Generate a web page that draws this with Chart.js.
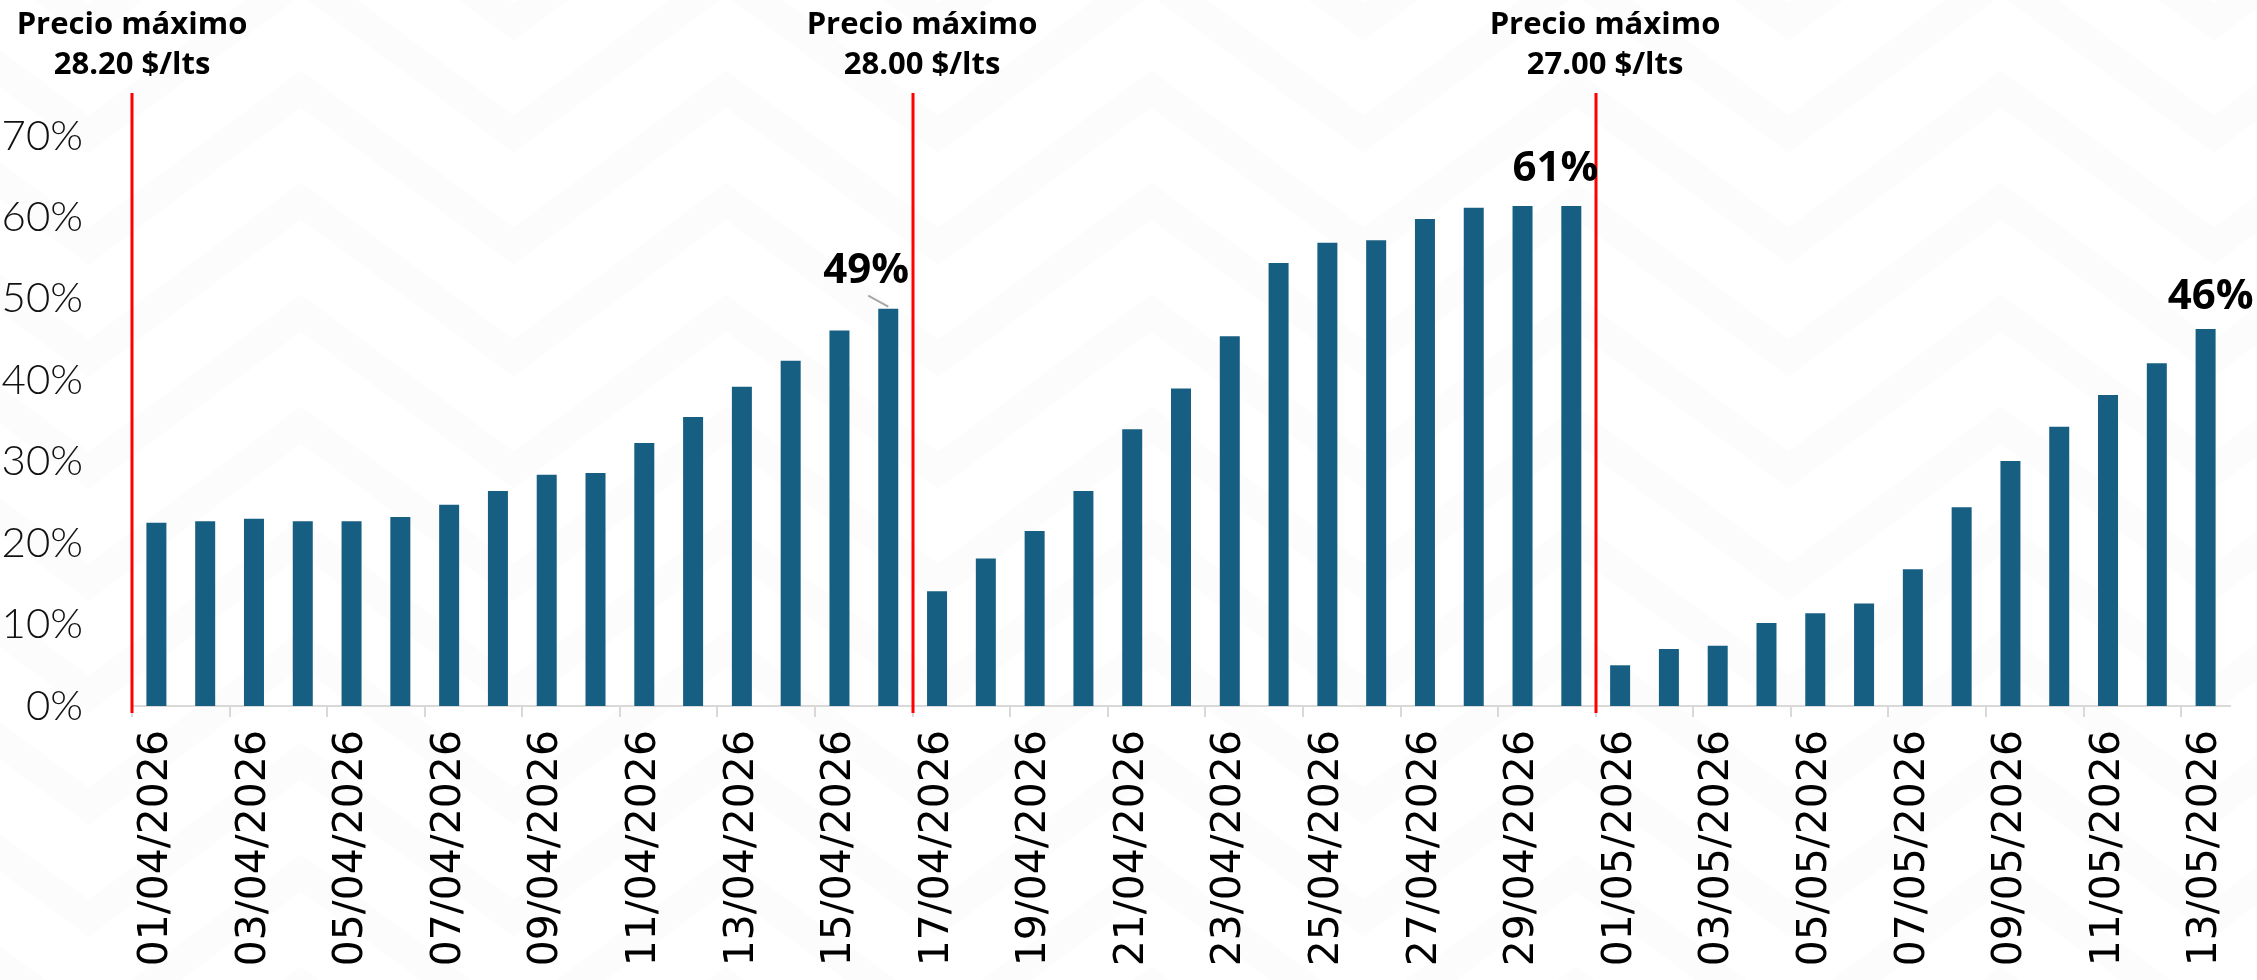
<!DOCTYPE html>
<html lang="es">
<head>
<meta charset="UTF-8">
<title>Precio máximo</title>
<script src="https://cdn.jsdelivr.net/npm/chart.js@4"></script>
<style>
  html, body { margin: 0; padding: 0; background: #fff; }
  #wrap { width: 2257px; height: 980px; }
</style>
</head>
<body>
<div id="wrap"><canvas id="chart"></canvas></div>
<script>
// categorias (dias)
const fechas = [
  '01/04/2026', '02/04/2026', '03/04/2026', '04/04/2026', '05/04/2026', '06/04/2026',
  '07/04/2026', '08/04/2026', '09/04/2026', '10/04/2026', '11/04/2026', '12/04/2026',
  '13/04/2026', '14/04/2026', '15/04/2026', '16/04/2026', '17/04/2026', '18/04/2026',
  '19/04/2026', '20/04/2026', '21/04/2026', '22/04/2026', '23/04/2026', '24/04/2026',
  '25/04/2026', '26/04/2026', '27/04/2026', '28/04/2026', '29/04/2026', '30/04/2026',
  '01/05/2026', '02/05/2026', '03/05/2026', '04/05/2026', '05/05/2026', '06/05/2026',
  '07/05/2026', '08/05/2026', '09/05/2026', '10/05/2026', '11/05/2026', '12/05/2026',
  '13/05/2026'
];

// porcentaje (%)
const valores = [
  22.5, 22.7, 23.0, 22.7, 22.7, 23.2, 24.7, 26.4, 28.4, 28.6, 32.3, 35.5, 39.2, 42.4, 46.1, 48.8,
  14.1, 18.1, 21.5, 26.4, 34.0, 39.0, 45.4, 54.4, 56.9, 57.2, 59.8, 61.2, 61.4, 61.4,
  5.0, 7.0, 7.4, 10.2, 11.4, 12.6, 16.8, 24.4, 30.1, 34.3, 38.2, 42.1, 46.3
];

// indice donde empieza cada precio maximo
const cortes = [0, 16, 30];
const preciosMax = ['28.20 $/lts', '28.00 $/lts', '27.00 $/lts'];

// barras con etiqueta
const destacados = [15, 29, 42];

const yMax = 70;
const yPaso = 10;

const fondo = {
  id: 'fondo',
  beforeDraw(chart) {
    const ctx = chart.ctx;
    ctx.save();
    ctx.fillStyle = '#fff';
    ctx.fillRect(0, 0, chart.width, chart.height);
    ctx.strokeStyle = '#fcfcfc';
    ctx.lineWidth = 30;
    ctx.lineJoin = 'miter';
    for (let k = -3; k < 10; k++) {
      const y0 = 89 + 112 * k;
      ctx.beginPath();
      for (let n = -2; n < 7; n++) {
        const xp = 301 + 425 * n;
        if (n === -2) ctx.moveTo(xp, y0); else ctx.lineTo(xp, y0);
        ctx.lineTo(xp + 212.5, y0 + 157);
      }
      ctx.stroke();
    }
    ctx.restore();
  }
};

const anotaciones = {
  id: 'anotaciones',
  afterDatasetsDraw(chart) {
    const ctx = chart.ctx;
    const area = chart.chartArea;
    const xs = chart.scales.x;
    const paso = xs.width / fechas.length;
    ctx.save();
    // lineas rojas y precios
    cortes.forEach((c, i) => {
      const x = Math.round(xs.getPixelForValue(c) - paso / 2);
      ctx.strokeStyle = '#ff0000';
      ctx.lineWidth = 3;
      ctx.beginPath();
      ctx.moveTo(x, area.top - 43);
      ctx.lineTo(x, area.bottom + 7);
      ctx.stroke();
      const tx = x + (i === 0 ? 0 : 9);
      ctx.fillStyle = '#000';
      ctx.textAlign = 'center';
      ctx.textBaseline = 'middle';
      ctx.font = 'bold 31px "Open Sans"';
      ctx.fillText('Precio máximo', tx, area.top - 111);
      ctx.fillText(preciosMax[i], tx, area.top - 71);
    });
    // etiquetas de valor
    const meta = chart.getDatasetMeta(0);
    const desp = [[-22, -38], [-16, -37], [5, -32]];
    destacados.forEach((idx, j) => {
      const bar = meta.data[idx];
      ctx.fillStyle = '#000';
      ctx.font = 'bold 42px "Open Sans"';
      ctx.textAlign = 'center';
      ctx.textBaseline = 'middle';
      ctx.fillText(Math.round(valores[idx]) + '%', bar.x + desp[j][0], bar.y + desp[j][1]);
      if (j === 0) {
        ctx.strokeStyle = '#a6a6a6';
        ctx.lineWidth = 2;
        ctx.beginPath();
        ctx.moveTo(bar.x - 20, bar.y - 13);
        ctx.lineTo(bar.x, bar.y - 2);
        ctx.stroke();
      }
    });
    ctx.restore();
  }
};

new Chart(document.getElementById('chart'), {
  type: 'bar',
  data: {
    labels: fechas,
    datasets: [{
      data: valores,
      backgroundColor: '#175f82',
      barPercentage: 0.41,
      categoryPercentage: 1.0
    }]
  },
  options: {
    responsive: true,
    maintainAspectRatio: false,
    animation: false,
    layout: { padding: { top: 136, right: 27, left: 0, bottom: 0 } },
    plugins: { legend: { display: false }, tooltip: { enabled: false } },
    scales: {
      x: {
        grid: {
          offset: true,
          drawOnChartArea: false,
          drawTicks: true,
          tickLength: 11,
          lineWidth: 2,
          color: ctx => (ctx.index !== undefined && ctx.index % 2 === 0) ? '#d9d9d9' : 'rgba(0,0,0,0)'
        },
        border: { display: true, color: '#d9d9d9', width: 2 },
        ticks: {
          autoSkip: false,
          minRotation: 90,
          maxRotation: 90,
          padding: 13,
          color: '#000',
          font: { family: 'DejaVu Sans', size: 41 },
          callback: (v, i) => (i % 2 === 0 ? fechas[i] : '')
        },
        afterFit: s => {
          s.height = 274;
          s.paddingLeft = 0;
          s.paddingRight = 0;
        }
      },
      y: {
        min: 0,
        max: yMax,
        grid: { display: false },
        border: { display: false },
        ticks: {
          stepSize: yPaso,
          padding: 41,
          color: '#111',
          font: { family: 'Lato', size: 42, weight: 300 },
          callback: v => v + '%'
        },
        afterFit: s => { s.width = 132; }
      }
    }
  },
  plugins: [fondo, anotaciones]
});
</script>
</body>
</html>
